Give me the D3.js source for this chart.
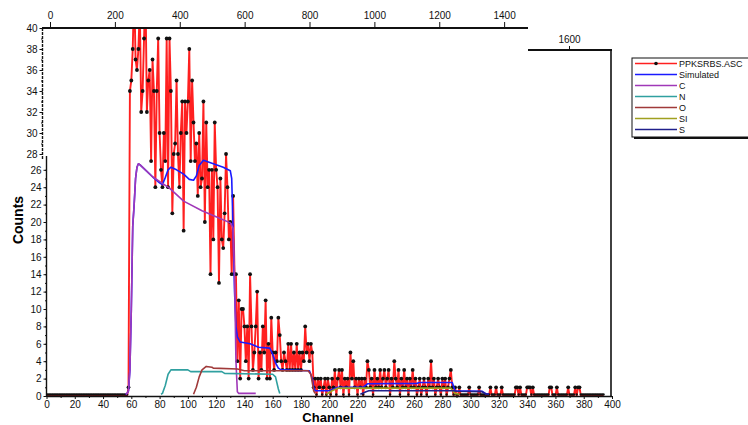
<!DOCTYPE html>
<html>
<head>
<meta charset="utf-8">
<script src="https://cdn.jsdelivr.net/npm/d3@7"></script>
<style>
  body { margin: 0; background: #fff; }
  svg { display: block; font-family: "Liberation Sans", Arial, sans-serif; }
</style>
</head>
<body>
<div id="chart"></div>
<script>
// measured spectrum, one value per channel starting at channel 0
const counts = [
  0,0,0,0,0,0,0,0,0,0,
  0,0,0,0,0,0,0,0,0,0,
  0,0,0,0,0,0,0,0,0,0,
  0,0,0,0,0,0,0,0,0,0,
  0,0,0,0,0,0,0,0,0,0,
  0,0,0,0,0,0,0,0,1,34,
  35,38,44,37,36,38,42,32,34,39,
  44,32,35,36,27,37,34,24,34,39,
  30,26,24,30,27,39,24,39,34,21,
  28,29,35,28,24,30,33,19,33,30,
  33,38,27,35,31,27,29,23,30,24,
  25,33,20,31,24,26,14,26,18,31,
  26,24,13,25,18,17,21,28,24,18,
  20,14,23,14,14,4,11,2,10,10,
  8,4,8,2,14,8,3,5,8,12,
  2,5,3,8,5,11,2,6,2,9,
  5,3,5,4,9,7,4,3,5,4,
  3,6,3,6,3,5,3,6,3,5,
  3,5,4,8,5,6,4,6,5,1,
  2,0,2,1,2,0,1,2,0,2,
  1,0,2,1,3,0,2,3,1,3,
  0,2,1,2,0,5,2,4,1,2,
  0,2,1,2,0,2,1,4,3,1,
  2,0,3,1,2,1,3,1,2,3,
  1,2,3,0,2,1,4,2,1,3,
  0,2,1,3,1,2,0,2,1,3,
  1,2,0,1,2,0,1,2,1,0,
  2,1,4,1,2,0,1,2,1,0,
  2,1,2,0,1,2,3,1,0,1,
  0,0,1,0,0,0,0,0,0,1,
  0,0,0,0,0,0,1,0,0,0,
  0,0,0,0,1,0,0,0,1,0,
  0,0,1,0,0,0,0,0,0,0,
  0,0,1,1,0,1,0,0,0,0,
  1,1,1,0,1,0,0,0,0,0,
  0,0,0,0,0,0,1,1,0,0,
  0,1,0,0,0,0,0,0,0,1,
  0,0,0,0,1,0,1,1,0,0,
  0,0,0,0,0,0,0,0,0,0,
  0,0,0,0,0
];

// simulated curves: [channel, counts]
const simulated = [[56,0.2],[57,0.3],[58,0.6],[59,3],[60,10],[61,19.5],[62,22],[63,25],[64,26.3],[65,26.7],[66,26.6],
  [75,25.2],[80,24.5],[82,24.3],[84,25.1],[86,26],[88,26.3],[92,26.0],[97,25.5],[101,24.9],[104,24.8],[106,25.3],
  [108,26.5],[111,27.1],[118,26.7],[125,26.3],[130,25.9],[131,25],[132,19],[133,12],[134,8],[135,6.8],[137,6.2],
  [144,6.0],[150,5.6],[158,5.5],[160,4.8],[162,3.8],[164,3.2],[166,3.0],[186,2.9],[188,2.0],[189,1.0],[190,0.6],
  [200,0.6],[206,1.0],[224,1.0],[227,1.4],[262,1.45],[264,1.55],[287,1.55],[289,0.6],[308,0.55],[311,0.25],[313,0.2]];
const carbon = [[56,0.2],[57,0.3],[58,0.6],[59,3],[60,10],[61,19.5],[62,22],[63,25],[64,26.3],[65,26.7],[66,26.6],
  [75,25.2],[87,23.9],[97,22.4],[110,21.3],[120,20.6],[130,19.9],[132,19.3],[133,14],[134,4],[135,0.5],[136,0.3],[148,0.3]];
const nitrogen = [[81,0.2],[82,0.3],[84,1.2],[86,2.5],[88,3.0],[100,3.0],[102,2.8],[124,2.8],[126,2.6],[160,2.5],
  [162,2.2],[164,0.8],[165,0.3]];
const oxygen = [[104,0.2],[106,1.0],[108,2.2],[110,3.0],[113,3.4],[117,3.3],[118,3.2],[135,3.1],[140,2.9],[185,2.9],
  [187,2.5],[189,0.6],[190,0.3]];
const silicon = [[198,0.2],[202,0.6],[206,0.9],[286,0.9],[289,0.3],[292,0.2]];
const sulfur = [[222,0.2],[226,0.5],[228,0.6],[288,0.6],[290,0.55],[308,0.5],[311,0.2],[313,0.2]];

const legendNames = ["PPKSRBS.ASC", "Simulated", "C", "N", "O", "SI", "S"];
const legendColors = ["#ff2020", "#1a1aff", "#a038b8", "#30a0a0", "#a03a3a", "#a0a020", "#20208c"];

const channelTicks = [0,20,40,60,80,100,120,140,160,180,200,220,240,260,280,300,320,340,360,380,400];
const lowerCountTicks = [0,2,4,6,8,10,12,14,16,18,20,22,24,26];
const upperCountTicks = [28,30,32,34,36,38,40];
const energyTicks = [0,200,400,600,800,1000,1200,1400];
const energyTicksHigh = [1600];

const width = 748, height = 425;
const svg = d3.select('#chart').append('svg')
    .attr('width', width)
    .attr('height', height);

const x = d3.scaleLinear().domain([0, 400]).range([46.5, 612]);
// broken count axis: 0-27 in the lower panel, 28-40 stretched in the upper one
const y = d3.scaleLinear().domain([0, 27.3, 28, 40]).range([396, 158.5, 154, 28]);
const xTop = d3.scaleLinear().domain([0, 1600]).range([50, 569]);

svg.append('clipPath').attr('id', 'plot-clip')
    .append('rect')
    .attr('x', 46.5).attr('y', 28)
    .attr('width', 565).attr('height', 369);

const plot = svg.append('g').attr('clip-path', 'url(#plot-clip)');

const points = counts.map((v, i) => [i, v]);
const line = d3.line().x(d => x(d[0])).y(d => y(d[1]));

plot.append('path')
    .datum(points)
    .attr('fill', 'none')
    .attr('stroke', legendColors[0])
    .attr('stroke-width', 1.9)
    .attr('d', line);

plot.append('g').selectAll('circle')
    .data(points)
    .join('circle')
    .attr('cx', d => x(d[0]))
    .attr('cy', d => y(d[1]) - (d[1] === 0 ? 1.5 : 0))
    .attr('r', d => d[1] === 0 ? 1.2 : 1.9)
    .attr('fill', '#111');

const curves = [simulated, carbon, nitrogen, oxygen, silicon, sulfur];
curves.forEach((c, i) => {
    plot.append('path')
        .datum(c)
        .attr('fill', 'none')
        .attr('stroke', legendColors[i + 1])
        .attr('stroke-width', 1.6)
        .attr('stroke-linejoin', 'round')
        .attr('d', line);
});

function styleAxis(g) {
    g.select('.domain').remove();
    g.selectAll('text').attr('font-family', '"Liberation Sans", Arial, sans-serif')
        .attr('font-size', 10).attr('fill', '#111');
    g.selectAll('line').attr('stroke', '#111');
}

// bottom axis
svg.append('g').attr('transform', 'translate(0,396)')
    .call(d3.axisBottom(x).tickValues(channelTicks).tickSize(3).tickPadding(2))
    .call(styleAxis);
svg.append('g').attr('transform', 'translate(0,396)')
    .call(d3.axisBottom(x).tickValues(d3.range(10, 400, 20)).tickSize(2).tickFormat(''))
    .call(styleAxis);
svg.append('line')
    .attr('x1', 46.5).attr('x2', 612).attr('y1', 396.5).attr('y2', 396.5)
    .attr('stroke', '#111').attr('stroke-width', 1.6);

// right border
svg.append('line')
    .attr('x1', 611).attr('x2', 611).attr('y1', 49).attr('y2', 397)
    .attr('stroke', '#111').attr('stroke-width', 1.6);

// lower left axis
svg.append('g').attr('transform', 'translate(46.5,0)')
    .call(d3.axisLeft(y).tickValues(lowerCountTicks).tickSize(3).tickPadding(2))
    .call(styleAxis);
svg.append('g').attr('transform', 'translate(46.5,0)')
    .call(d3.axisLeft(y).tickValues(d3.range(1, 27, 1)).tickSize(1.5).tickFormat(''))
    .call(styleAxis);
svg.append('line')
    .attr('x1', 46.5).attr('x2', 46.5).attr('y1', 156).attr('y2', 397)
    .attr('stroke', '#111').attr('stroke-width', 1.4);

// upper left axis
svg.append('g').attr('transform', 'translate(42.5,0)')
    .call(d3.axisLeft(y).tickValues(upperCountTicks).tickSize(3).tickPadding(2))
    .call(styleAxis);
svg.append('g').attr('transform', 'translate(42.5,0)')
    .call(d3.axisLeft(y).tickValues(d3.range(29, 40, 1)).tickSize(1.5).tickFormat(''))
    .call(styleAxis);
svg.append('line')
    .attr('x1', 42.5).attr('x2', 42.5).attr('y1', 28).attr('y2', 160)
    .attr('stroke', '#111').attr('stroke-width', 1.4)
    .attr('stroke-dasharray', '3,1');

// top axis, in two steps
svg.append('g').attr('transform', 'translate(0,28)')
    .call(d3.axisTop(xTop).tickValues(energyTicks).tickSize(6).tickPadding(3.5).tickFormat(d3.format('d')))
    .call(styleAxis);
svg.append('line')
    .attr('x1', 42).attr('x2', 528).attr('y1', 28).attr('y2', 28)
    .attr('stroke', '#111').attr('stroke-width', 2.2);
svg.append('g').attr('transform', 'translate(0,50)')
    .call(d3.axisTop(xTop).tickValues(energyTicksHigh).tickSize(4).tickPadding(3).tickFormat(d3.format('d')))
    .call(styleAxis);
svg.append('line')
    .attr('x1', 528).attr('x2', 612).attr('y1', 50).attr('y2', 50)
    .attr('stroke', '#111').attr('stroke-width', 2);

// titles
svg.append('text')
    .attr('transform', 'translate(23,220) rotate(-90)')
    .attr('text-anchor', 'middle')
    .attr('font-weight', 'bold')
    .attr('font-size', 14)
    .text('Counts');
svg.append('text')
    .attr('x', 328).attr('y', 422)
    .attr('text-anchor', 'middle')
    .attr('font-weight', 'bold')
    .attr('font-size', 13)
    .text('Channel');

// legend
const legend = svg.append('g').attr('transform', 'translate(632,58)');
legend.append('rect')
    .attr('x', 2).attr('y', 2).attr('width', 124).attr('height', 79)
    .attr('fill', '#111');
legend.append('rect')
    .attr('x', 0).attr('y', 0).attr('width', 124).attr('height', 79)
    .attr('fill', '#fff').attr('stroke', '#111').attr('stroke-width', 1);

const rows = legend.selectAll('g.row')
    .data(legendNames)
    .join('g')
    .attr('class', 'row')
    .attr('transform', (d, i) => `translate(0,${5.5 + i * 11})`);
rows.append('line')
    .attr('x1', 3).attr('x2', 45)
    .attr('stroke', (d, i) => legendColors[i])
    .attr('stroke-width', 1.5);
rows.filter((d, i) => i === 0).append('circle')
    .attr('cx', 24).attr('r', 1.8).attr('fill', '#111');
rows.append('text')
    .attr('x', 47).attr('dy', '0.35em')
    .attr('font-size', 9)
    .attr('fill', '#111')
    .text(d => d);
</script>
</body>
</html>
